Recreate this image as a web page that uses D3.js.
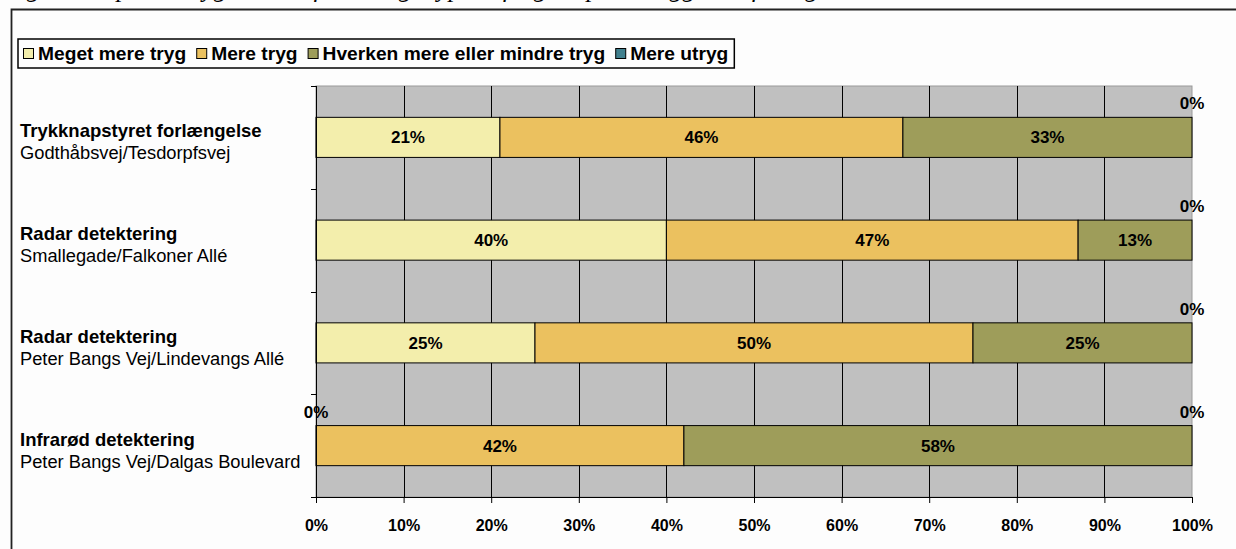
<!DOCTYPE html>
<html>
<head>
<meta charset="utf-8">
<script src="https://cdn.jsdelivr.net/npm/d3@7"></script>
<style>
  body { margin: 0; background: #fdfdfd; }
  svg { display: block; }
  text { font-family: "Liberation Sans", Arial, sans-serif; }
</style>
</head>
<body>
<div id="chart"></div>
<script>
// ----------------------------------------------------------------------
// Data
// ----------------------------------------------------------------------
var categoryTitles = ["Trykknapstyret forlængelse", "Radar detektering", "Radar detektering", "Infrarød detektering"];
var categoryPlaces = ["Godthåbsvej/Tesdorpfsvej", "Smallegade/Falkoner Allé", "Peter Bangs Vej/Lindevangs Allé", "Peter Bangs Vej/Dalgas Boulevard"];
var seriesNames = ["Meget mere tryg", "Mere tryg", "Hverken mere eller mindre tryg", "Mere utryg"];
var megetMereTryg = [21, 40, 25, 0];
var mereTryg = [46, 47, 50, 42];
var hverken = [33, 13, 25, 58];
var mereUtryg = [0, 0, 0, 0];
var xTicks = [0, 10, 20, 30, 40, 50, 60, 70, 80, 90, 100];
var titleText = "Figur 5: Oplevet tryghed ved forskellige typer af signal på anlæggene i forsøg";

var seriesValues = [megetMereTryg, mereTryg, hverken, mereUtryg];
var colors = ["#F3EEAC", "#EBC15F", "#9E9D5A", "#41808E"];

// ----------------------------------------------------------------------
// Dimensions
// ----------------------------------------------------------------------
var svgWidth = 1236;
var svgHeight = 549;
var margin = { top: 86, right: 44, bottom: 52, left: 316 };
var chartWidth = svgWidth - margin.left - margin.right;
var chartHeight = svgHeight - margin.top - margin.bottom;

var svg = d3.select("#chart")
    .append("svg")
    .attr("width", svgWidth)
    .attr("height", svgHeight);

// caption above the frame (cut off by the page top, only descenders show)
svg.append("text")
    .attr("x", 4)
    .attr("y", -3)
    .style("font-family", "'Liberation Serif', 'Times New Roman', serif")
    .style("font-style", "italic")
    .style("font-size", "26px")
    .text(titleText);

// outer frame (left and top edges visible)
svg.append("path")
    .attr("d", "M11.5,549 L11.5,9.5 L1236,9.5")
    .attr("fill", "none")
    .attr("stroke", "#222")
    .attr("stroke-width", 1.8);

var chartGroup = svg.append("g")
    .attr("transform", `translate(${margin.left}, ${margin.top})`);

// ----------------------------------------------------------------------
// Scales
// ----------------------------------------------------------------------
var xScale = d3.scaleLinear()
    .domain([0, 100])
    .range([0, chartWidth]);

var yScale = d3.scaleBand()
    .domain(d3.range(categoryTitles.length))
    .range([0, chartHeight])
    .paddingInner(0.61)
    .paddingOuter(0.305);

var bandStep = chartHeight / categoryTitles.length;

// ----------------------------------------------------------------------
// Plot area + grid
// ----------------------------------------------------------------------
chartGroup.append("rect")
    .attr("width", chartWidth)
    .attr("height", chartHeight)
    .attr("fill", "#C0C0C0")
    .attr("stroke", "#9a9a9a");

chartGroup.append("g")
    .selectAll("line")
    .data(xTicks.slice(1, -1))
    .enter()
    .append("line")
    .attr("x1", d => Math.round(xScale(d)) + 0.5)
    .attr("x2", d => Math.round(xScale(d)) + 0.5)
    .attr("y1", 0)
    .attr("y2", chartHeight)
    .attr("stroke", "#000");

// ----------------------------------------------------------------------
// Stacked bars
// ----------------------------------------------------------------------
var stackRows = categoryTitles.map(function (c, i) {
    var row = { index: i };
    seriesNames.forEach(function (s, k) { row[s] = seriesValues[k][i]; });
    return row;
});
var stacked = d3.stack().keys(seriesNames)(stackRows);

var layers = chartGroup.selectAll(".layer")
    .data(stacked)
    .enter()
    .append("g")
    .attr("class", "layer")
    .attr("fill", (d, i) => colors[i]);

layers.selectAll("rect")
    .data(d => d)
    .enter()
    .append("rect")
    .attr("x", d => xScale(d[0]))
    .attr("y", d => yScale(d.data.index))
    .attr("width", d => xScale(d[1]) - xScale(d[0]))
    .attr("height", yScale.bandwidth())
    .attr("stroke", "#000")
    .attr("stroke-width", 1);

// value labels (zero segments get their label just above the bar)
layers.selectAll("text")
    .data(d => d)
    .enter()
    .append("text")
    .attr("x", d => xScale((d[0] + d[1]) / 2))
    .attr("y", function (d) {
        var top = yScale(d.data.index);
        return d[1] - d[0] === 0 ? top - 8 : top + yScale.bandwidth() / 2 + 6;
    })
    .attr("text-anchor", "middle")
    .attr("fill", "#000")
    .style("font-size", "17px")
    .style("font-weight", "bold")
    .text(d => (d[1] - d[0]) + "%");

// ----------------------------------------------------------------------
// Axes
// ----------------------------------------------------------------------
var bottomAxis = d3.axisBottom(xScale)
    .tickValues(xTicks)
    .tickFormat(d => d + "%")
    .tickSize(6)
    .tickPadding(17);

var xAxisGroup = chartGroup.append("g")
    .attr("transform", `translate(0, ${chartHeight})`)
    .call(bottomAxis);
xAxisGroup.select(".domain").attr("stroke", "#000");
xAxisGroup.selectAll("text")
    .style("font-size", "16px")
    .style("font-weight", "bold")
    .style("font-family", "'Liberation Sans', Arial, sans-serif")
    .attr("fill", "#000");

// left axis: band boundary ticks
var yEdges = d3.range(categoryTitles.length + 1).map(i => i * bandStep);
chartGroup.append("line")
    .attr("x1", 0.5).attr("x2", 0.5)
    .attr("y1", 0).attr("y2", chartHeight)
    .attr("stroke", "#000");
chartGroup.append("g")
    .selectAll("line")
    .data(yEdges)
    .enter()
    .append("line")
    .attr("x1", -5)
    .attr("x2", 0)
    .attr("y1", d => Math.round(d) + 0.5)
    .attr("y2", d => Math.round(d) + 0.5)
    .attr("stroke", "#000");

// category labels (two lines each)
var catLabels = svg.append("g")
    .selectAll("g")
    .data(categoryTitles)
    .enter()
    .append("g")
    .attr("transform", (d, i) => `translate(20, ${margin.top + yScale(i) + yScale.bandwidth() / 2})`);

catLabels.append("text")
    .attr("y", 0)
    .style("font-size", "18.5px")
    .style("font-weight", "bold")
    .text(d => d);

catLabels.append("text")
    .attr("y", 22)
    .style("font-size", "18.3px")
    .text((d, i) => categoryPlaces[i]);

// ----------------------------------------------------------------------
// Legend
// ----------------------------------------------------------------------
var legend = svg.append("g").attr("transform", "translate(18, 39)");
var legendBox = legend.append("rect")
    .attr("height", 29)
    .attr("fill", "#fdfdfd")
    .attr("stroke", "#000")
    .attr("stroke-width", 1.5);

var lx = 5;
seriesNames.forEach(function (name, i) {
    legend.append("rect")
        .attr("x", lx + 0.5)
        .attr("y", 9.5)
        .attr("width", 10)
        .attr("height", 10)
        .attr("fill", colors[i])
        .attr("stroke", "#000");
    var t = legend.append("text")
        .attr("x", lx + 15)
        .attr("y", 21)
        .style("font-size", "19.2px")
        .style("font-weight", "bold")
        .text(name);
    lx += 15 + t.node().getComputedTextLength() + 10;
});
legendBox.attr("width", lx - 4);
</script>
</body>
</html>
